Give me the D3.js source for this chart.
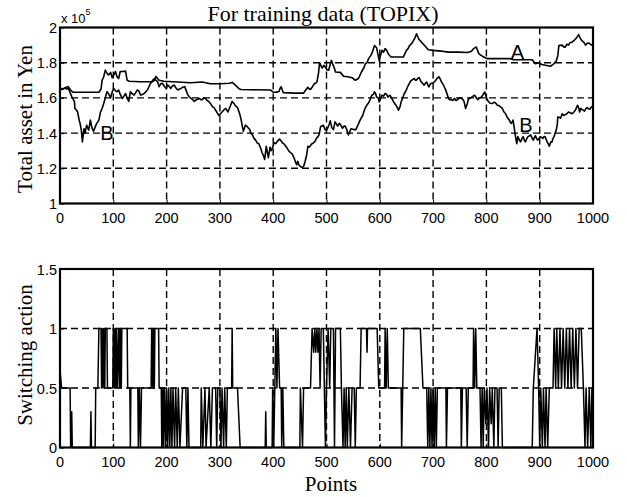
<!DOCTYPE html>
<html>
<head>
<meta charset="utf-8">
<script src="https://cdn.jsdelivr.net/npm/d3@7"></script>
<style>
  body { margin: 0; background: #fff; }
  svg { display: block; }
  .tick-label { font-family: "Liberation Sans", Arial, sans-serif; font-size: 14.5px; fill: #000; }
  .serif { font-family: "Liberation Serif", "Times New Roman", serif; font-size: 21px; fill: #000; }
  .series-label { font-family: "Liberation Sans", Arial, sans-serif; font-size: 20px; fill: #000; }
</style>
</head>
<body>
<svg id="chart" width="627" height="497"></svg>
<script>
// ---- data ----
const xTicks = [0, 100, 200, 300, 400, 500, 600, 700, 800, 900, 1000];
const assetTicks = [1, 1.2, 1.4, 1.6, 1.8, 2];
const assetTickLabels = ["1", "1.2", "1.4", "1.6", "1.8", "2"];
const actionTicks = [0, 0.5, 1, 1.5];
const actionTickLabels = ["0", "0.5", "1", "1.5"];

// total asset (x 10^5 yen) for strategy A: [point, value]
const seriesA = [
  [0,1.65],[8,1.655],[15,1.665],[20,1.645],[24,1.632],[73,1.632],[77,1.65],[79,1.70],[82,1.72],[85,1.758],
  [88,1.74],[91,1.73],[95,1.745],[98,1.715],[101,1.73],[104,1.75],[107,1.72],[110,1.71],[113,1.75],[118,1.75],
  [123,1.752],[126,1.70],[130,1.695],[150,1.692],[173,1.692],[177,1.70],[180,1.722],[183,1.71],[186,1.70],[195,1.695],
  [220,1.69],[245,1.686],[267,1.69],[282,1.68],[301,1.68],[318,1.683],[323,1.688],[328,1.675],[335,1.655],[339,1.648],
  [360,1.646],[395,1.645],[400,1.632],[406,1.633],[411,1.636],[413,1.655],[415,1.663],[417,1.645],[419,1.63],[440,1.627],
  [457,1.627],[461,1.645],[465,1.66],[468,1.65],[470,1.648],[474,1.665],[477,1.68],[480,1.685],[482,1.69],[485,1.74],
  [487,1.80],[490,1.78],[492,1.77],[495,1.785],[498,1.775],[501,1.76],[504,1.757],[507,1.79],[509,1.813],[512,1.79],
  [514,1.775],[517,1.747],[526,1.745],[532,1.723],[540,1.72],[548,1.715],[554,1.70],[560,1.71],[566,1.75],[570,1.77],
  [573,1.794],[576,1.80],[579,1.823],[583,1.84],[586,1.86],[590,1.898],[594,1.885],[597,1.84],[599,1.81],[602,1.85],
  [604,1.87],[607,1.86],[610,1.88],[613,1.87],[616,1.85],[621,1.832],[644,1.832],[647,1.85],[650,1.87],[653,1.88],
  [656,1.898],[660,1.91],[665,1.935],[669,1.964],[673,1.935],[678,1.917],[684,1.898],[691,1.874],[700,1.87],[715,1.866],
  [728,1.86],[747,1.86],[765,1.858],[772,1.865],[776,1.88],[781,1.889],[786,1.85],[795,1.832],[801,1.823],[845,1.823],
  [851,1.817],[886,1.817],[892,1.794],[898,1.80],[904,1.79],[920,1.78],[926,1.792],[931,1.81],[934,1.84],[936,1.898],
  [942,1.90],[945,1.89],[948,1.888],[951,1.905],[954,1.90],[957,1.915],[960,1.915],[964,1.925],[967,1.935],[970,1.945],
  [973,1.96],[976,1.94],[979,1.925],[983,1.915],[986,1.90],[989,1.91],[992,1.912],[995,1.905],[998,1.90],[1000,1.905]
];

// total asset (x 10^5 yen) for strategy B: [point, value]
const seriesB = [
  [0,1.65],[5,1.648],[9,1.656],[13,1.65],[16,1.654],[19,1.63],[22,1.607],[25,1.59],[27,1.58],[28,1.54],
  [31,1.53],[33,1.52],[36,1.474],[38,1.45],[40,1.417],[42,1.35],[44,1.40],[45,1.425],[47,1.40],[50,1.445],
  [52,1.43],[54,1.417],[57,1.474],[60,1.43],[63,1.41],[66,1.435],[69,1.455],[73,1.474],[76,1.52],[79,1.54],
  [82,1.568],[85,1.60],[88,1.635],[91,1.625],[95,1.60],[98,1.635],[101,1.654],[104,1.64],[107,1.635],[110,1.645],
  [113,1.62],[117,1.597],[120,1.61],[123,1.625],[126,1.60],[129,1.58],[132,1.635],[135,1.625],[139,1.616],[142,1.63],
  [145,1.645],[148,1.64],[151,1.616],[155,1.62],[158,1.625],[161,1.635],[164,1.645],[167,1.665],[170,1.683],[174,1.70],
  [177,1.71],[180,1.70],[183,1.692],[186,1.664],[189,1.68],[192,1.683],[196,1.665],[199,1.654],[202,1.673],[205,1.665],
  [208,1.654],[211,1.668],[214,1.673],[218,1.655],[221,1.645],[224,1.65],[227,1.654],[230,1.66],[234,1.664],[237,1.64],
  [240,1.616],[243,1.605],[246,1.597],[249,1.59],[252,1.58],[256,1.59],[261,1.597],[264,1.59],[267,1.59],[270,1.60],
  [273,1.597],[276,1.585],[279,1.58],[283,1.565],[286,1.55],[289,1.545],[292,1.53],[295,1.515],[298,1.50],[301,1.51],
  [304,1.52],[307,1.53],[311,1.54],[315,1.52],[319,1.55],[323,1.58],[326,1.57],[329,1.556],[333,1.545],[336,1.52],
  [338,1.50],[340,1.474],[342,1.44],[344,1.41],[346,1.43],[348,1.445],[350,1.44],[353,1.43],[356,1.42],[358,1.40],
  [361,1.39],[364,1.37],[367,1.36],[370,1.344],[373,1.34],[375,1.325],[377,1.31],[379,1.29],[382,1.27],[384,1.25],
  [386,1.30],[387,1.325],[389,1.29],[391,1.26],[393,1.30],[394,1.32],[396,1.30],[398,1.31],[400,1.33],[402,1.345],
  [405,1.34],[407,1.35],[410,1.36],[412,1.366],[415,1.355],[417,1.345],[420,1.34],[423,1.328],[426,1.315],[429,1.30],
  [432,1.29],[436,1.28],[439,1.26],[442,1.234],[444,1.22],[446,1.24],[448,1.22],[451,1.21],[454,1.205],[457,1.21],
  [460,1.24],[463,1.28],[465,1.325],[468,1.32],[470,1.33],[473,1.34],[476,1.345],[479,1.355],[481,1.37],[484,1.38],
  [486,1.39],[489,1.437],[492,1.44],[494,1.445],[496,1.43],[498,1.417],[501,1.42],[503,1.435],[505,1.45],[507,1.47],
  [510,1.43],[513,1.42],[516,1.464],[519,1.45],[521,1.44],[524,1.455],[526,1.45],[530,1.427],[533,1.44],[535,1.44],
  [538,1.42],[541,1.39],[544,1.41],[546,1.425],[551,1.42],[555,1.42],[559,1.445],[563,1.474],[566,1.49],[568,1.50],
  [571,1.53],[574,1.55],[576,1.56],[580,1.577],[583,1.60],[585,1.615],[588,1.62],[590,1.634],[592,1.625],[594,1.605],
  [597,1.60],[599,1.577],[602,1.60],[604,1.615],[607,1.61],[610,1.625],[613,1.62],[615,1.605],[619,1.615],[622,1.60],
  [626,1.577],[630,1.56],[633,1.545],[635,1.53],[638,1.55],[640,1.577],[643,1.60],[646,1.625],[649,1.64],[652,1.662],
  [655,1.68],[658,1.696],[662,1.705],[665,1.71],[667,1.70],[669,1.702],[671,1.71],[674,1.715],[676,1.70],[678,1.69],
  [681,1.68],[683,1.672],[686,1.685],[688,1.69],[690,1.675],[692,1.662],[695,1.68],[697,1.683],[700,1.685],[702,1.69],
  [705,1.70],[707,1.71],[709,1.715],[711,1.72],[713,1.71],[716,1.69],[719,1.675],[721,1.662],[723,1.65],[725,1.634],
  [727,1.615],[729,1.596],[731,1.59],[734,1.59],[737,1.585],[740,1.597],[743,1.585],[746,1.59],[749,1.60],[753,1.597],
  [756,1.59],[758,1.58],[761,1.54],[764,1.565],[766,1.59],[769,1.60],[771,1.602],[775,1.61],[778,1.615],[781,1.60],
  [784,1.59],[787,1.60],[791,1.605],[794,1.62],[797,1.634],[800,1.60],[804,1.578],[807,1.57],[811,1.568],[814,1.575],
  [817,1.572],[820,1.56],[824,1.555],[827,1.548],[830,1.54],[833,1.52],[836,1.51],[839,1.49],[843,1.474],[845,1.46],
  [847,1.455],[850,1.474],[852,1.436],[854,1.39],[857,1.34],[859,1.38],[862,1.36],[864,1.35],[867,1.37],[869,1.38],
  [871,1.36],[873,1.35],[876,1.37],[878,1.38],[881,1.385],[883,1.39],[886,1.37],[888,1.36],[890,1.375],[892,1.385],
  [894,1.37],[896,1.36],[899,1.37],[901,1.38],[904,1.375],[906,1.37],[908,1.38],[910,1.38],[912,1.365],[914,1.35],
  [916,1.34],[918,1.326],[921,1.35],[923,1.35],[925,1.37],[927,1.38],[929,1.40],[931,1.417],[933,1.45],[934,1.492],
  [937,1.49],[939,1.485],[941,1.50],[942,1.51],[945,1.50],[948,1.505],[951,1.51],[954,1.52],[957,1.515],[961,1.51],
  [964,1.52],[967,1.53],[969,1.545],[971,1.558],[973,1.545],[975,1.52],[977,1.54],[979,1.535],[982,1.53],[984,1.525],
  [987,1.54],[989,1.545],[991,1.54],[994,1.535],[996,1.545],[998,1.55],[1000,1.545]
];

// switching action: [point, value]
const action = [
  [0,0.65],[3,0.5],[19,0.5],[20,0],[22,0.3],[23,0],[57,0],[58,0.3],[59,0],[66,0],[67,0.5],[71,0.5],[73,1],[77,1],
  [78,0.5],[79,1],[81,0.5],[82,1],[84,0.5],[85,1],[88,1],[89,0.5],[99,0.5],[100,1],[102,0.5],[103,1],[105,0.5],
  [106,1],[108,0.5],[110,1],[112,0.5],[113,1],[115,0.5],[116,1],[126,1],[127,0.5],[131,0.5],[132,0],[133,0.5],
  [146,0.5],[147,0],[149,0.5],[151,0],[153,0.5],[171,0.5],[172,1],[174,0.5],[175,1],[177,0.5],[178,1],[185,1],
  [186,0.5],[190,0.5],[191,0],[193,0.5],[194,0],[196,0.5],[198,0],[200,0.5],[202,0],[204,0.5],[206,0],[208,0.5],
  [210,0],[212,0.5],[215,0],[217,0.5],[220,0],[222,0.5],[225,0],[230,0.5],[236,0.5],[238,0],[240,0.5],[242,0],
  [264,0],[265,0.5],[268,0],[272,0.5],[274,0],[280,0.5],[283,0],[286,0.5],[292,0.5],[294,0],[296,0.5],[300,0.5],
  [302,0],[304,0.5],[307,0],[309,0.5],[312,0],[314,0.5],[322,0.5],[323,1],[324,0.5],[333,0.5],[338,0],[385,0],
  [386,0.3],[387,0],[398,0],[399,0.5],[401,0],[403,0.5],[405,1],[407,0.5],[409,1],[412,0.5],[415,0.5],[416,0],
  [418,0.5],[420,0],[450,0],[451,0.5],[455,0],[457,0.5],[470,0.5],[473,1],[476,0.8],[478,1],[480,0.8],[482,1],
  [484,0.8],[486,1],[488,0.5],[490,1],[494,1],[496,0.5],[498,0],[500,0.5],[503,1],[506,0.5],[508,1],[513,1],
  [514,0.5],[515,0],[517,1],[526,1],[528,0.5],[531,0],[533,0.5],[535,0],[537,0.5],[539,0],[542,0.5],[545,0],
  [548,0.5],[552,0.5],[554,0],[556,0.5],[563,0.5],[565,1],[575,1],[576,0.8],[577,1],[595,1],[598,0.5],[609,0.5],
  [610,1],[612,0.5],[614,1],[616,0.5],[640,0.5],[641,0],[643,0.5],[645,1],[676,1],[681,0.5],[688,0.5],[690,0],
  [692,0.5],[694,0],[696,0.5],[698,0],[700,0.5],[702,0],[704,0.5],[706,0],[708,0.5],[724,0.5],[725,0],[727,0.5],
  [752,0.5],[753,0],[755,0.5],[762,0.5],[764,0],[766,0.5],[775,0.5],[776,1],[778,0.5],[780,1],[782,0.5],[788,0.5],
  [790,0],[792,0.5],[794,0],[796,0.5],[799,0.2],[801,0.5],[804,0],[806,0.5],[809,0.2],[811,0.5],[814,0],[816,0.5],
  [820,0.5],[822,0],[824,0.5],[828,0.5],[830,0],[832,0],[886,0],[888,0.5],[895,1],[898,0.5],[900,0],[902,0.5],
  [905,0],[907,0.5],[910,0],[912,0.5],[915,0],[918,0.5],[925,0.5],[927,1],[930,0.5],[932,1],[935,0.5],[938,1],
  [941,0.5],[944,1],[947,0.5],[950,1],[953,0.5],[956,1],[959,0.5],[962,1],[965,0.5],[968,1],[971,0.5],[974,1],
  [978,1],[982,0.5],[985,0],[987,0.5],[990,0],[993,0.5],[996,0],[998,0.5],[1000,0.5]
];

// text annotations placed at data coordinates
const seriesLabels = [
  { text: "A", x: 858, y: 1.819 },
  { text: "B", x: 88, y: 1.361 },
  { text: "B", x: 874, y: 1.408 }
];

// ---- layout ----
const svg = d3.select("#chart");
const left = 60, right = 593;
const topPanel = { top: 27.5, bottom: 203.5 };
const botPanel = { top: 269, bottom: 447.5 };

const x = d3.scaleLinear().domain([0, 1000]).range([left, right]);
const yAsset = d3.scaleLinear().domain([1, 2]).range([topPanel.bottom, topPanel.top]);
const yAction = d3.scaleLinear().domain([0, 1.5]).range([botPanel.bottom, botPanel.top]);

function drawPanel(yScale, panel, yTicks, yTickLabels) {
  const g = svg.append("g");

  // dashed grid
  const grid = g.append("g").attr("stroke", "#000").attr("stroke-width", 1.4)
    .attr("stroke-dasharray", "7,4").attr("fill", "none");
  xTicks.slice(1, -1).forEach(t => {
    grid.append("line").attr("x1", x(t)).attr("x2", x(t))
      .attr("y1", panel.top).attr("y2", panel.bottom);
  });
  yTicks.slice(1, -1).forEach(t => {
    grid.append("line").attr("x1", left).attr("x2", right)
      .attr("y1", yScale(t)).attr("y2", yScale(t));
  });

  // axes with inward ticks
  const xAxis = d3.axisBottom(x).tickValues(xTicks).tickSize(-4).tickFormat("");
  g.append("g").attr("transform", `translate(0,${panel.bottom})`).call(xAxis)
    .call(a => a.select(".domain").remove());
  const yAxis = d3.axisLeft(yScale).tickValues(yTicks).tickSize(-4).tickFormat("");
  g.append("g").attr("transform", `translate(${left},0)`).call(yAxis)
    .call(a => a.select(".domain").remove());

  // tick labels
  g.append("g").selectAll("text").data(xTicks).join("text")
    .attr("class", "tick-label").attr("text-anchor", "middle")
    .attr("x", d => x(d)).attr("y", panel.bottom + 19.5).text(d => d);
  g.append("g").selectAll("text").data(yTicks).join("text")
    .attr("class", "tick-label").attr("text-anchor", "end")
    .attr("x", left - 3).attr("y", d => yScale(d) + 5.5)
    .text((d, i) => yTickLabels[i]);

  return g;
}

const gTop = drawPanel(yAsset, topPanel, assetTicks, assetTickLabels);
const gBot = drawPanel(yAction, botPanel, actionTicks, actionTickLabels);

// data lines
const lineAsset = d3.line().x(d => x(d[0])).y(d => yAsset(d[1]));
const lineAction = d3.line().x(d => x(d[0])).y(d => yAction(d[1]));

[seriesA, seriesB].forEach(s => {
  gTop.append("path").datum(s).attr("d", lineAsset)
    .attr("fill", "none").attr("stroke", "#000").attr("stroke-width", 1.6)
    .attr("stroke-linejoin", "round");
});
gBot.append("path").datum(action).attr("d", lineAction)
  .attr("fill", "none").attr("stroke", "#000").attr("stroke-width", 1.5)
  .attr("stroke-linejoin", "round");

gTop.append("g").selectAll("text").data(seriesLabels).join("text")
  .attr("class", "series-label").attr("text-anchor", "middle")
  .attr("x", d => x(d.x)).attr("y", d => yAsset(d.y)).text(d => d.text);

// frames
[topPanel, botPanel].forEach(p => {
  svg.append("rect").attr("x", left).attr("y", p.top)
    .attr("width", right - left).attr("height", p.bottom - p.top)
    .attr("fill", "none").attr("stroke", "#000").attr("stroke-width", 2.2);
});

// exponent label
const expo = svg.append("text").attr("class", "tick-label").attr("x", 61).attr("y", 23)
  .style("font-size", "13px");
expo.append("tspan").text("x 10");
expo.append("tspan").attr("dy", -8).style("font-size", "9px").text("5");

// titles
svg.append("text").attr("class", "serif").style("font-size", "22px").attr("text-anchor", "middle")
  .attr("x", 323).attr("y", 21).text("For training data (TOPIX)");
svg.append("text").attr("class", "serif").attr("text-anchor", "middle")
  .attr("transform", "translate(32,119) rotate(-90)")
  .text("Total asset in Yen");
svg.append("text").attr("class", "serif").attr("text-anchor", "middle")
  .attr("transform", "translate(32,355) rotate(-90)")
  .text("Switching action");
svg.append("text").attr("class", "serif").attr("text-anchor", "middle")
  .attr("x", 331).attr("y", 491).text("Points");
</script>
</body>
</html>
